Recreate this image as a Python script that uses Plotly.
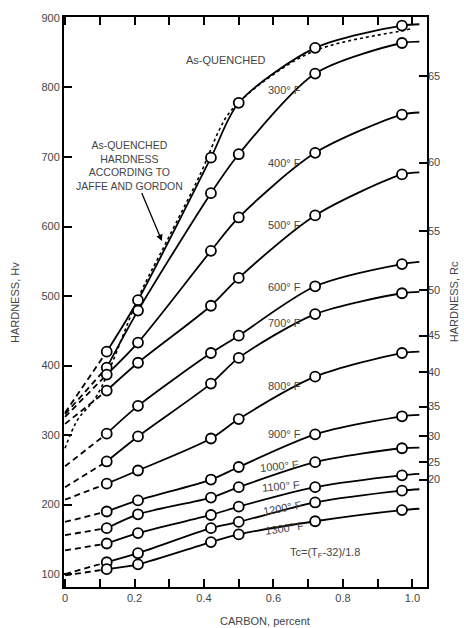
import plotly.graph_objects as go

# ---------------- data ----------------
carbon = [0.12, 0.21, 0.42, 0.50, 0.72, 0.97]
carbon_start = 0.0
carbon_end = 1.02

hv_as_quenched = [420, 494, 699, 778, 857, 889]
hv_300F = [397, 479, 648, 704, 820, 864]
hv_400F = [387, 433, 565, 613, 706, 761]
hv_500F = [364, 404, 486, 526, 616, 675]
hv_600F = [302, 342, 418, 443, 514, 546]
hv_700F = [262, 298, 374, 411, 474, 504]
hv_800F = [230, 249, 295, 323, 384, 418]
hv_900F = [190, 206, 236, 254, 301, 327]
hv_1000F = [166, 186, 210, 225, 261, 281]
hv_1100F = [144, 159, 185, 197, 225, 242]
hv_1200F = [117, 130, 166, 175, 203, 220]
hv_1300F = [107, 114, 146, 157, 176, 192]

# dashed extrapolation start (carbon = 0) and short tail end values
hv_at_zero = [332, 330, 326, 316, 255, 225, 207, 175, 156, 134, 100, 98]
hv_at_end = [891, 866, 764, 678, 549, 506, 420, 329, 282, 244, 222, 194]

# Jaffe & Gordon as-quenched hardness (dotted)
jaffe_carbon = [0.0, 0.035, 0.092, 0.216, 0.293, 0.389, 0.446, 0.475, 0.57, 0.725, 0.984, 1.0]
jaffe_hv = [281, 321, 357, 503, 579, 675, 741, 765, 808, 854, 883, 885]

# Rockwell C scale (right axis) and equivalent Hv positions
rc_values = [65, 60, 55, 50, 45, 40, 35, 30, 25, 20]
rc_hv_equiv = [817, 692, 593, 509, 443, 390, 341, 299, 261, 236]

x_tick_vals = [0, 0.1, 0.2, 0.3, 0.4, 0.5, 0.6, 0.7, 0.8, 0.9, 1.0]
x_tick_text = ["0", "", "0.2", "", "0.4", "", "0.6", "", "0.8", "", "1.0"]
y_tick_vals = [100, 200, 300, 400, 500, 600, 700, 800, 900]

series = [hv_as_quenched, hv_300F, hv_400F, hv_500F, hv_600F, hv_700F,
          hv_800F, hv_900F, hv_1000F, hv_1100F, hv_1200F, hv_1300F]

# labels: (text, x, y, angle)
curve_labels = [
    ("As-QUENCHED", 0.463, 840, 0),
    ("300° F", 0.633, 797, 0),
    ("400° F", 0.633, 692, 0),
    ("500° F", 0.633, 602, 0),
    ("600° F", 0.633, 513, 0),
    ("700° F", 0.633, 461, 0),
    ("800° F", 0.633, 371, 0),
    ("900° F", 0.633, 302, 0),
    ("1000° F", 0.617, 256, -6),
    ("1100° F", 0.622, 226, -5),
    ("1200° F", 0.625, 195, -10),
    ("1300° F", 0.633, 167, -8),
]

FONT = "Liberation Sans, Arial, sans-serif"
TXT = "#454545"

fig = go.Figure()

# dotted Jaffe & Gordon curve
fig.add_trace(go.Scatter(x=jaffe_carbon, y=jaffe_hv, mode="lines",
                         line=dict(color="black", width=1.6, dash="dot", shape="spline"),
                         hoverinfo="skip", showlegend=False))

# dashed starts and solid curves
for vals, v0, vend in zip(series, hv_at_zero, hv_at_end):
    fig.add_trace(go.Scatter(x=[carbon_start, carbon[0]], y=[v0, vals[0]], mode="lines",
                             line=dict(color="black", width=1.8, dash="6px,4px"),
                             hoverinfo="skip", showlegend=False))
    fig.add_trace(go.Scatter(x=carbon + [carbon_end], y=vals + [vend], mode="lines",
                             line=dict(color="black", width=1.8, shape="spline", smoothing=0.8),
                             hoverinfo="skip", showlegend=False))

# circle markers on top
for vals in series:
    fig.add_trace(go.Scatter(x=carbon, y=vals, mode="markers",
                             marker=dict(symbol="circle", size=10, color="white",
                                         line=dict(color="black", width=1.8)),
                             hoverinfo="skip", showlegend=False))

# invisible trace for right axis
fig.add_trace(go.Scatter(x=[carbon_start], y=[rc_hv_equiv[0]], yaxis="y2", mode="markers",
                         marker=dict(opacity=0), hoverinfo="skip", showlegend=False))

yr = [81.4, 901.4]
fig.update_layout(
    width=464, height=628,
    margin=dict(l=64, r=37, t=15, b=41),
    paper_bgcolor="white", plot_bgcolor="white",
    font=dict(family=FONT, size=11, color=TXT),
    xaxis=dict(range=[-0.003, 1.042], tickmode="array", tickvals=x_tick_vals, ticktext=x_tick_text,
               ticks="inside", ticklen=8, tickwidth=2, tickcolor="black",
               showline=True, linecolor="black", linewidth=2, mirror="ticks",
               showgrid=False, zeroline=False, tickfont=dict(size=11, color=TXT)),
    yaxis=dict(range=yr, tickmode="array", tickvals=y_tick_vals,
               ticks="inside", ticklen=8, tickwidth=2, tickcolor="black",
               showline=True, linecolor="black", linewidth=2, mirror=True,
               showgrid=False, zeroline=False, tickfont=dict(size=11, color=TXT)),
    yaxis2=dict(range=yr, overlaying="y", side="right", tickmode="array",
                tickvals=rc_hv_equiv, ticktext=[str(v) for v in rc_values],
                ticks="inside", ticklen=8, tickwidth=2, tickcolor="black",
                showline=False, showgrid=False, zeroline=False,
                tickfont=dict(size=11, color=TXT)),
)

for text, x, y, ang in curve_labels:
    fig.add_annotation(x=x, y=y, text=text, showarrow=False, textangle=ang,
                       font=dict(family=FONT, size=11, color=TXT))

fig.add_annotation(x=0.748, y=130, text="Tc=(T<sub>F</sub>-32)/1.8", showarrow=False,
                   font=dict(family=FONT, size=11, color=TXT))

# Jaffe & Gordon note with arrow pointing at the dotted curve
fig.add_annotation(x=0.279, y=579,
                   text="As-QUENCHED<br>HARDNESS<br>ACCORDING TO<br>JAFFE AND GORDON",
                   showarrow=True, arrowhead=2, arrowsize=1, arrowwidth=1.3, arrowcolor="black",
                   ax=-32, ay=-76, align="center", standoff=0,
                   font=dict(family=FONT, size=10.5, color=TXT))

# axis titles
fig.add_annotation(xref="paper", yref="paper", x=0.555, y=-0.045, yanchor="top",
                   text="CARBON, percent", showarrow=False,
                   font=dict(family=FONT, size=11, color=TXT))
fig.add_annotation(xref="paper", yref="paper", x=-0.135, y=0.5, xanchor="center",
                   text="HARDNESS, Hv", textangle=-90, showarrow=False,
                   font=dict(family=FONT, size=11, color=TXT))
fig.add_annotation(xref="paper", yref="paper", x=1.075, y=0.5, xanchor="center",
                   text="HARDNESS, Rc", textangle=-90, showarrow=False,
                   font=dict(family=FONT, size=11, color=TXT))

fig.write_html("out.html")
